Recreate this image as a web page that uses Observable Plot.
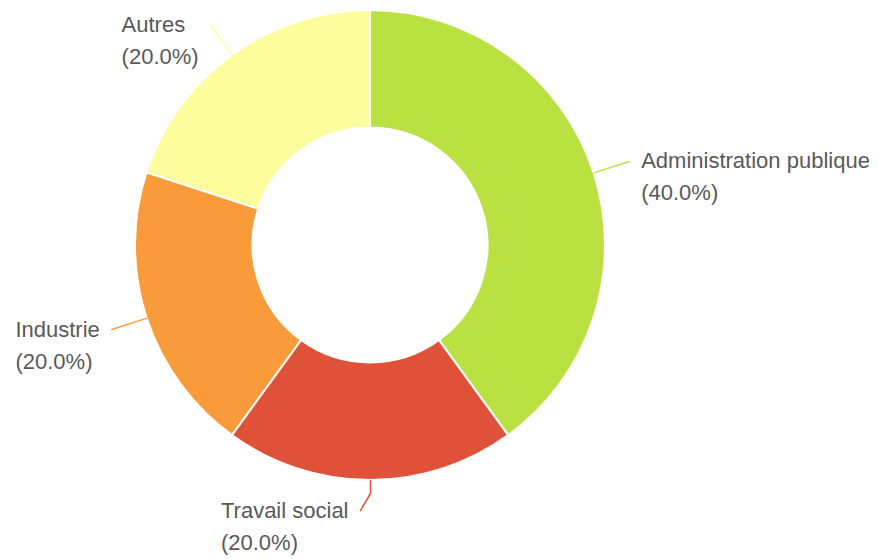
<!DOCTYPE html>
<html><head><meta charset="utf-8">
<script src="https://cdn.jsdelivr.net/npm/d3@7"></script>
<script src="https://cdn.jsdelivr.net/npm/@observablehq/plot@0.6"></script>
<style>body{margin:0;background:#fff;overflow:hidden}</style>
</head><body><div id="chart"></div>
<script>
const categories = ["Administration publique", "Travail social", "Industrie", "Autres"];
const values = [40, 20, 20, 20];
const colors = ["#b9e142", "#e0513a", "#f99b3b", "#fefd9e"];

const W = 878, H = 559, CX = 370, CY = 245, R = 235;
const INNER = 0.5, KNEE = 13, LINE = 37, GAP = 12, LH = 32, FS = 22, BOTTOM = 510;
const FONT = "Liberation Sans, Arial, Helvetica, sans-serif";

const total = d3.sum(values);
const pie = d3.pie().sort(null)(values);
const ctx = document.createElement("canvas").getContext("2d");
ctx.font = `${FS}px "Liberation Sans"`;

const yMin = -(BOTTOM - CY) / R; // lowest first-line position in data units
const data = [];
const linePts = [];
categories.forEach((category, i) => {
  const a = pie[i];
  const mid = (a.startAngle + a.endAngle) / 2;
  const right = mid < Math.PI - 1e-6;
  const side = right ? 1 : -1;
  const s = Math.sin(mid), c = Math.cos(mid);
  const k = 1 + KNEE / R, e = 1 + LINE / R;
  let ex = s * e, ey = c * e;
  if (ey < yMin) { ex = s * k + side * 10 / R; ey = yMin; }
  const pct = `(${(values[i] / total * 100).toFixed(1)}%)`;
  const w = Math.max(ctx.measureText(category).width, ctx.measureText(pct).width);
  const tx = right ? ex + GAP / R : ex - (GAP + w) / R;
  data.push({category, value: values[i], pct, tx, ty: ey, ty2: ey - LH / R});
  linePts.push({category, x: s, y: c}, {category, x: s * k, y: c * k}, {category, x: ex, y: ey});
});

function donut(index, scales) {
  const cx = scales.x(0), cy = scales.y(0);
  const rad = scales.x(1) - cx;
  const arc = d3.arc().outerRadius(rad).innerRadius(rad * INNER);
  const g = d3.create("svg:g").attr("transform", `translate(${cx},${cy})`);
  g.selectAll("path").data(pie).join("path")
    .attr("d", arc)
    .attr("fill", (d, i) => scales.color(categories[i]))
    .attr("stroke", "#fff")
    .attr("stroke-width", 2)
    .attr("stroke-linejoin", "round");
  return g.node();
}

const chart = Plot.plot({
  width: W, height: H,
  margin: 0,
  x: {domain: [-CX / R, (W - CX) / R], axis: null},
  y: {domain: [-(H - CY) / R, CY / R], axis: null},
  color: {domain: categories, range: colors},
  style: {fontFamily: FONT, background: "#fff"},
  marks: [
    donut,
    Plot.line(linePts, {x: "x", y: "y", z: "category", stroke: "category", strokeWidth: 1.5}),
    Plot.text(data, {x: "tx", y: "ty", text: "category", textAnchor: "start", fontSize: FS, fill: "#595959"}),
    Plot.text(data, {x: "tx", y: "ty2", text: "pct", textAnchor: "start", fontSize: FS, fill: "#595959"})
  ]
});
document.getElementById("chart").appendChild(chart);
</script>
</body></html>
